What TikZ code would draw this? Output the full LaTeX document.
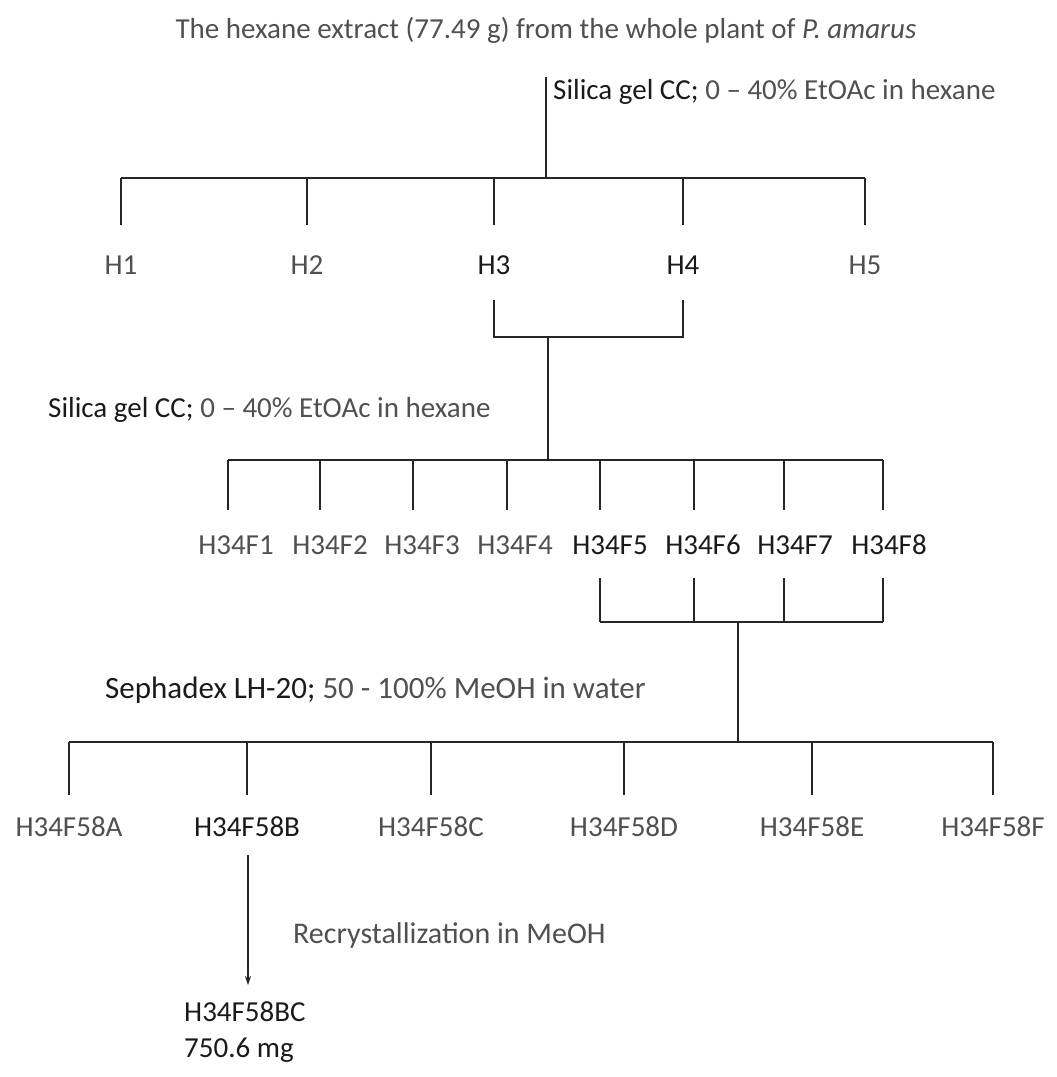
\documentclass[tikz,border=0pt]{standalone}
\usepackage{fontspec}
\setmainfont{Carlito}
\usetikzlibrary{arrows.meta}
\definecolor{lt}{HTML}{505050}
\definecolor{dk}{HTML}{1A1A1A}
\tikzset{
  lbl/.style={font=\fontsize{29}{34}\selectfont, text=lt, inner sep=0pt},
  lbd/.style={lbl, text=dk},
  ln/.style={line width=1.6pt, black!85},
}
\begin{document}
\begin{tikzpicture}[x=1pt,y=-1pt]
\useasboundingbox (0,0) rectangle (1057,1077);
% title
\node[lbl] (title) at (546,30) {The hexane extract (77.49 g) from the whole plant of \textit{P. amarus}};
\coordinate (t0) at (546,77);
\coordinate (j1) at (546,178);
\draw[ln] (t0) -- (j1);
\node[lbl, anchor=west] (s1) at (553,92) {\textcolor{dk}{Silica gel CC;} 0 -- 40\% EtOAc in hexane};
% level 1
\foreach \n/\x/\s in {1/121/lbl,2/307/lbl,3/494/lbd,4/683/lbd,5/865/lbl}{
  \coordinate (h\n t) at (\x,178);
  \coordinate (h\n b) at (\x,225);
  \node[\s] (h\n) at (\x,265) {H\n};
  \draw[ln] (h\n t) -- (h\n b);
}
\draw[ln] (h1t) -- (h5t);
% bracket H3 H4
\coordinate (u3t) at (494,300); \coordinate (u3b) at (494,337);
\coordinate (u4t) at (683,300); \coordinate (u4b) at (683,337);
\coordinate (k1) at (548,337);
\coordinate (j2) at (548,460);
\draw[ln] (u3t) -- (u3b) -- (u4b) -- (u4t);
\draw[ln] (k1) -- (j2);
\node[lbl, anchor=west] (s2) at (48,410) {\textcolor{dk}{Silica gel CC;} 0 -- 40\% EtOAc in hexane};
% level 2
\foreach \n/\x/\s in {1/236/lbl,2/330/lbl,3/422/lbl,4/515/lbl,5/610/lbd,6/703/lbd,7/795/lbd,8/889/lbd}{
  \node[\s] (f\n) at (\x,545) {H34F\n};
}
\foreach \n/\x in {1/228,2/320,3/413,4/507,5/600,6/694,7/784,8/883}{
  \coordinate (f\n t) at (\x,460);
  \coordinate (f\n b) at (\x,510);
  \draw[ln] (f\n t) -- (f\n b);
}
\draw[ln] (f1t) -- (f8t);
% bracket F5-F8
\foreach \n/\x in {5/600,6/694,7/784,8/883}{
  \coordinate (v\n t) at (\x,578);
  \coordinate (v\n b) at (\x,622);
  \draw[ln] (v\n t) -- (v\n b);
}
\draw[ln] (v5b) -- (v8b);
\coordinate (k2) at (738,622);
\coordinate (j3) at (738,742);
\draw[ln] (k2) -- (j3);
\node[lbl, font=\fontsize{31}{36}\selectfont, anchor=west] (s3) at (105,690) {\textcolor{dk}{Sephadex LH-20;} 50 - 100\% MeOH in water};
% level 3
\foreach \n/\x/\s in {A/69/lbl,B/247/lbd,C/431/lbl,D/624/lbl,E/812/lbl,F/993/lbl}{
  \coordinate (g\n t) at (\x,742);
  \coordinate (g\n b) at (\x,795);
  \node[\s] (g\n) at (\x,827) {H34F58\n};
  \draw[ln] (g\n t) -- (g\n b);
}
\draw[ln] (gAt) -- (gFt);
% recrystallization
\coordinate (a0) at (248,855);
\coordinate (a1) at (248,985);
\draw[line width=1.3pt, black!85, -{Stealth[length=9pt,width=6pt]}] (a0) -- (a1);
\node[lbl, font=\fontsize{30}{35}\selectfont, anchor=west] (rc) at (293,935) {Recrystallization in MeOH};
\node[lbd, anchor=west] (bc) at (184,1012) {H34F58BC};
\node[lbd, anchor=west] (mg) at (184,1050) {750.6 mg};
\end{tikzpicture}
\end{document}
